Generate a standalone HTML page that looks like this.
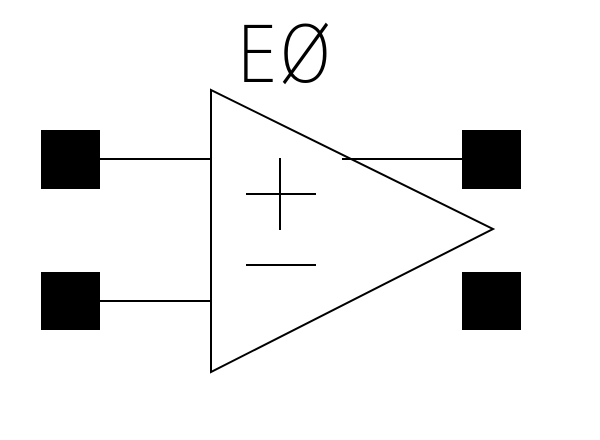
<!DOCTYPE html>
<html><head><style>html,body{margin:0;padding:0;background:#fff;}svg{display:block}</style></head>
<body>
<svg width="600" height="440" xmlns="http://www.w3.org/2000/svg">
<rect width="600" height="440" fill="#fff"/>
<g fill="#000">
<rect x="41" y="130" width="59" height="59"/>
<rect x="41" y="272" width="59" height="58"/>
<rect x="462" y="130" width="59" height="59"/>
<rect x="462" y="272" width="59" height="58"/>
</g>
<g stroke="#000" stroke-width="2" fill="none">
<line x1="100" y1="159" x2="211" y2="159"/>
<line x1="100" y1="301" x2="211" y2="301"/>
<line x1="342" y1="159" x2="462" y2="159"/>
<polygon points="211,90 493,229 211,372"/>
<line x1="280" y1="158" x2="280" y2="230"/>
<line x1="246" y1="194" x2="316" y2="194"/>
<line x1="246" y1="265" x2="316" y2="265"/>
</g>
<text x="236" y="82" font-family="DejaVu Sans ExtraLight, DejaVu Sans, sans-serif" font-size="78" font-weight="200" textLength="96" lengthAdjust="spacingAndGlyphs" fill="#000">EØ</text>
</svg>
</body></html>
